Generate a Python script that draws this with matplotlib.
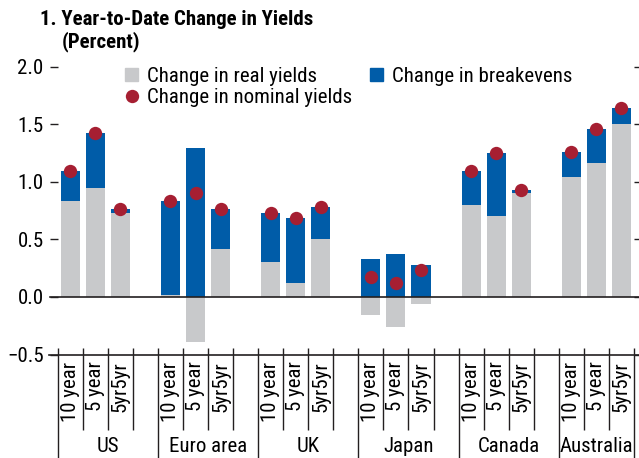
import numpy as np
import matplotlib.pyplot as plt
from matplotlib.patches import Patch
from matplotlib.lines import Line2D

plt.rcParams['font.family'] = ['Liberation Sans Narrow', 'Roboto Condensed', 'Archivo Narrow', 'DejaVu Sans']
plt.rcParams['font.size'] = 15

# data (percent)
groups = ['US', 'Euro area', 'UK', 'Japan', 'Canada', 'Australia']
tenors = ['10 year', '5 year', '5yr5yr']
real = [0.83, 0.95, 0.73,
        0.02, -0.39, 0.42,
        0.30, 0.12, 0.50,
        -0.16, -0.26, -0.06,
        0.80, 0.70, 0.90,
        1.04, 1.16, 1.50]
breakeven = [0.26, 0.47, 0.03,
             0.81, 1.29, 0.34,
             0.43, 0.57, 0.28,
             0.33, 0.37, 0.28,
             0.29, 0.55, 0.03,
             0.22, 0.30, 0.14]
nominal = [1.09, 1.42, 0.76,
           0.83, 0.90, 0.76,
           0.73, 0.69, 0.78,
           0.17, 0.12, 0.23,
           1.09, 1.25, 0.93,
           1.26, 1.46, 1.64]

grey = '#c8c9cb'
blue = '#005ca8'
red = '#a61f32'
ink = '#231f20'

W, H = 639, 458
fig = plt.figure(figsize=(W/100, H/100), dpi=100)
ax = fig.add_axes([57.7/W, 1-354.5/H, (634-57.7)/W, (354.5-66.7)/H])

# 3 bars per country plus one empty slot
x = np.array([4*g + b for g in range(len(groups)) for b in range(len(tenors))])
real = np.array(real)
breakeven = np.array(breakeven)

ax.bar(x, real, width=0.76, color=grey, zorder=2)
ax.bar(x, breakeven, width=0.76, bottom=np.maximum(real, 0), color=blue, zorder=2)
ax.plot(x, nominal, 'o', ms=9.6, color=red, mec='none', zorder=4)

ax.set_xlim(-0.5, 22.5)
ax.set_ylim(-0.5, 2.0)
for s in ax.spines.values():
    s.set_visible(False)

ax.set_yticks(np.arange(-0.5, 2.01, 0.5))
ax.set_yticklabels([f'{v:.1f}'.replace('-', '\u2212') for v in np.arange(-0.5, 2.01, 0.5)])
ax.tick_params(axis='y', direction='out', length=5.8, width=1, pad=4.3,
               left=True, right=True, color=ink)

ax.set_xticks(x)
ax.set_xticklabels(tenors * len(groups), rotation=90)
ax.tick_params(axis='x', which='major', length=0, pad=5)
bounds = np.arange(-0.5, 23, 1)
ax.set_xticks(bounds, minor=True)
ax.tick_params(axis='x', which='minor', direction='in', length=5, width=1, color=ink)

ax.axhline(-0.5, xmin=-0.015, xmax=1.02, color=ink, lw=1.2, clip_on=False, zorder=5)
ax.axhline(0, xmin=-0.013, xmax=1.02, color=ink, lw=1.2, clip_on=False, zorder=3)

# separators under the axis
seps = [4*g - 0.5 for g in range(len(groups))] + [22.5]
inner = [b for b in bounds if b not in seps]
xt = ax.get_xaxis_transform()
ax.vlines(inner, -0.262, 0, transform=xt, colors=ink, lw=1, clip_on=False)
ax.vlines(seps, -0.4, 0, transform=xt, colors=ink, lw=1, clip_on=False)
for i, name in enumerate(groups):
    ax.text((seps[i] + seps[i+1]) / 2, -0.321, name, transform=xt,
            ha='center', va='center')

fig.text(40/W, 1-25/H, '1. Year-to-Date Change in Yields', fontweight='bold', va='baseline')
fig.text(62/W, 1-47/H, '(Percent)', fontweight='bold', va='baseline')

handles = [Patch(color=grey),
           Line2D([], [], marker='o', ls='none', ms=9.6, color=red, mec='none'),
           Patch(color=blue)]
labels = ['Change in real yields', 'Change in nominal yields', 'Change in breakevens']
fig.legend(handles, labels, ncol=2, loc='upper left', bbox_to_anchor=(125/W, 1-67/H),
           frameon=False, borderpad=0, borderaxespad=0, handlelength=0.625,
           handleheight=0.625, handletextpad=0.43, columnspacing=0.85, labelspacing=0.1)

fig.savefig('out.png', dpi=100)
